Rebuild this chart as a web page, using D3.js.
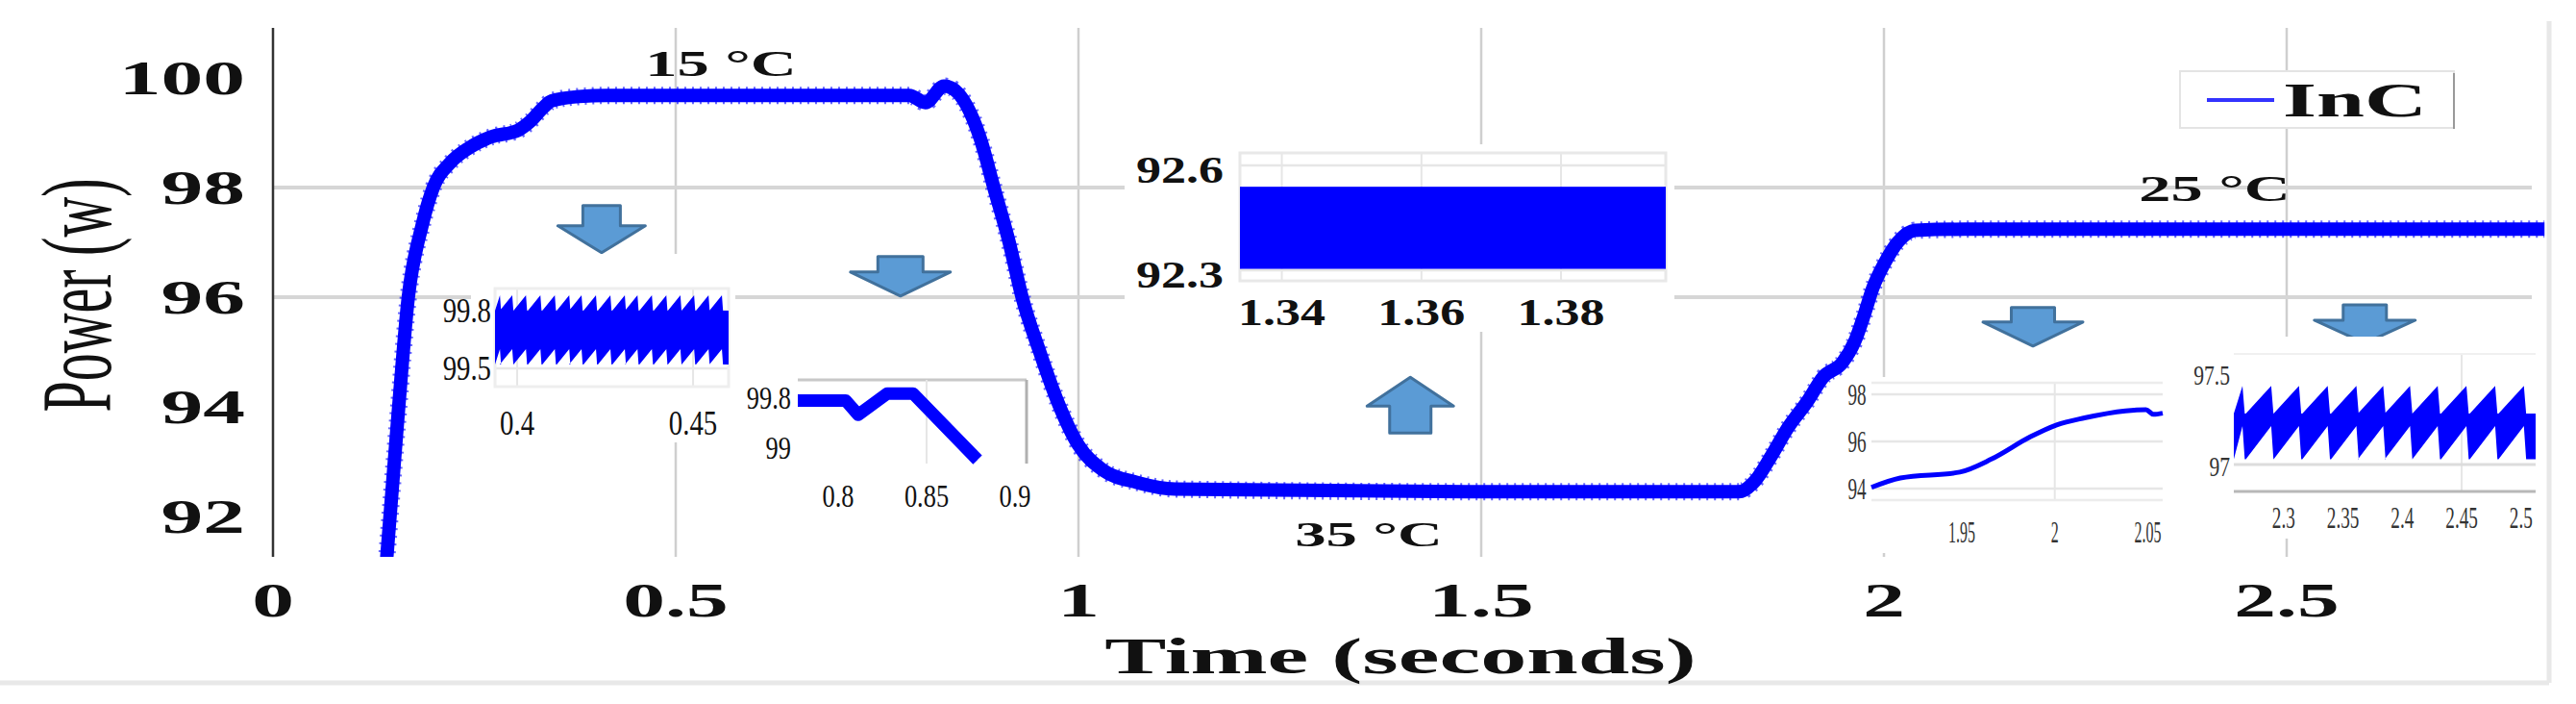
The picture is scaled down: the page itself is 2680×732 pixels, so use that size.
<!DOCTYPE html>
<html><head><meta charset="utf-8">
<script src="https://cdn.jsdelivr.net/npm/d3@7/dist/d3.min.js"></script>
<style>body{margin:0;background:#fff}svg{display:block}</style>
</head><body>
<script>
// ---------- data ----------
const mainT = [0.141,0.155,0.168,0.185,0.199,0.22,0.243,0.27,0.305,0.319,0.335,0.346,0.38,0.414,0.6,0.79,0.81,0.833,0.842,0.878,0.895,0.914,0.93,0.952,0.974,1.0,1.03,1.073,1.12,1.5,1.82,1.84,1.86,1.88,1.905,1.925,1.948,1.964,1.976,1.986,2.0,2.017,2.039,2.1,2.4,2.82];
const mainP = [91.2,93.8,96.0,97.3,98.0,98.45,98.72,98.92,99.05,99.2,99.45,99.58,99.66,99.68,99.68,99.68,99.55,99.85,99.82,98.9,98.0,97.0,96.0,95.0,94.1,93.3,92.85,92.62,92.5,92.45,92.45,92.65,93.1,93.6,94.1,94.55,94.8,95.2,95.7,96.16,96.6,97.0,97.22,97.24,97.24,97.24];
const xTicks = [0,0.5,1,1.5,2,2.5];
const xTickLabels = ["0","0.5","1","1.5","2","2.5"];
const yTicks = [92,94,96,98,100];
const yTickLabels = ["92","94","96","98","100"];
// inset A (0.4 - 0.45)
const aTeeth = [0.3951,0.3986,0.4025,0.4066,0.4107,0.4148,0.4183,0.4224,0.4265,0.4306,0.4342,0.4383,0.4424,0.4464,0.4503,0.4544,0.4582];
const aEnv = [99.88,99.8,99.6,99.52];
const aXTicks = [0.4,0.45], aYTicks=[99.5,99.8];
// inset B (0.8 - 0.9)
const bT = [0.7772,0.8043,0.8114,0.8277,0.8424,0.8788];
const bP = [99.75,99.75,99.52,99.86,99.86,98.8];
const bXTicks=[0.8,0.85,0.9];
// inset C (1.34 - 1.38)
const cBand = [92.318,92.553];
const cXTicks=[1.34,1.36,1.38], cYTicks=[92.3,92.6];
// inset D (1.95 - 2.05)
const dT = [1.9015,1.917,1.949,1.966,1.987,2.001,2.016,2.038,2.049,2.053,2.058];
const dP = [94.05,94.45,94.7,95.25,96.2,96.7,97.0,97.3,97.35,97.15,97.2];
const dXTicks=[1.95,2,2.05], dYTicks=[94,96,98];
// inset E (2.3 - 2.5)
const eTeeth = [2.2653,2.2895,2.3129,2.3371,2.3613,2.3839,2.4065,2.4298,2.4540,2.4782,2.5024];
const eEnv = [97.44,97.285,97.215,97.03];
const eXTicks=[2.3,2.35,2.4,2.45,2.5], eYTicks=[97,97.5];

// ---------- setup ----------
const W=2680,H=732;
const svg=d3.select("body").append("svg").attr("width",W).attr("height",H);
const x=d3.scaleLinear().domain([0,1]).range([284,1122]);
const y=d3.scaleLinear().domain([100,92]).range([81,537]);
const plotL=284, plotR=2649, plotT=29, plotB=579;
const FONT="Liberation Serif";
function txt(g,px,py,s,size,opt={}){
  return g.append("text").attr("transform",`translate(${px},${py}) scale(${opt.sx||1},1)`)
   .attr("text-anchor",opt.anchor||"middle").attr("dominant-baseline","central")
   .attr("font-family",FONT).attr("font-weight",opt.weight||"bold").attr("font-size",size)
   .attr("fill",opt.fill||"#111").text(s);
}
svg.append("line").attr("x1",0).attr("x2",2652).attr("y1",710).attr("y2",710).attr("stroke","#e8e8e8").attr("stroke-width",5);
svg.append("line").attr("x1",2652).attr("x2",2652).attr("y1",22).attr("y2",710).attr("stroke","#e8e8e8").attr("stroke-width",5);

const grid=svg.append("g");
xTicks.slice(1).forEach(t=>grid.append("line").attr("x1",x(t)).attr("x2",x(t)).attr("y1",plotT).attr("y2",plotB).attr("stroke","#cfcfcf").attr("stroke-width",2.5));
[96,98].forEach(p=>grid.append("line").attr("x1",plotL).attr("x2",plotR-15).attr("y1",y(p)).attr("y2",y(p)).attr("stroke","#d6d6d6").attr("stroke-width",4));
svg.append("line").attr("x1",plotL).attr("x2",plotL).attr("y1",plotT).attr("y2",plotB).attr("stroke","#333").attr("stroke-width",2.5);
yTicks.forEach((v,i)=>txt(svg,255,y(v),yTickLabels[i],50,{anchor:"end",sx:1.75}));
xTicks.forEach((v,i)=>txt(svg,x(v),624,xTickLabels[i],50,{sx:1.75}));
txt(svg,1457,683,"Time (seconds)",52,{sx:1.85});
svg.append("text").attr("transform","translate(80,307) scale(1.8,1) rotate(-90)")
  .attr("text-anchor","middle").attr("dominant-baseline","central").attr("font-family",FONT)
  .attr("font-size",58).attr("fill","#111").text("Power (w)");

svg.append("clipPath").attr("id","pc").append("rect").attr("x",plotL).attr("y",plotT).attr("width",plotR-plotL).attr("height",plotB-plotT);
const mainData=mainT.map((t,i)=>[t,mainP[i]]);
const line=d3.line().x(d=>x(d[0])).y(d=>y(d[1])).curve(d3.curveMonotoneX);
svg.append("path").attr("clip-path","url(#pc)").attr("d",line(mainData)).attr("fill","none")
  .attr("stroke","#0000ff").attr("stroke-width",14).attr("stroke-linejoin","round");
svg.append("path").attr("clip-path","url(#pc)").attr("d",line(mainData)).attr("fill","none")
  .attr("stroke","#0000ff").attr("stroke-width",18).attr("stroke-dasharray","2 6").attr("opacity",0.6);

txt(svg,750,66,"15 °C",38,{sx:1.75});
txt(svg,1424,556,"35 °C",36,{sx:1.8});
txt(svg,2304,196,"25 °C",38,{sx:1.75});

const lg=svg.append("g");
lg.append("rect").attr("x",2268).attr("y",74).attr("width",285).attr("height",59).attr("fill","#fff").attr("stroke","#e4e4e4").attr("stroke-width",2);
lg.append("line").attr("x1",2553).attr("x2",2553).attr("y1",76).attr("y2",134).attr("stroke","#999").attr("stroke-width",2);
lg.append("line").attr("x1",2296).attr("x2",2366).attr("y1",104).attr("y2",104).attr("stroke","#3333ff").attr("stroke-width",4);
txt(lg,2375,104,"InC",50,{anchor:"start",sx:1.8});

function arrow(t,p,dir,w,sw,sh,hh){
  const cx=x(t), ty=y(p);
  let pts;
  if(dir==="down") pts=[[cx-sw/2,ty],[cx+sw/2,ty],[cx+sw/2,ty+sh],[cx+w/2,ty+sh],[cx,ty+sh+hh],[cx-w/2,ty+sh],[cx-sw/2,ty+sh]];
  else pts=[[cx,ty],[cx+w/2,ty+hh],[cx+sw/2,ty+hh],[cx+sw/2,ty+hh+sh],[cx-sw/2,ty+hh+sh],[cx-sw/2,ty+hh],[cx-w/2,ty+hh]];
  svg.append("path").attr("d","M"+pts.join("L")+"Z").attr("fill","#5b9bd5").attr("stroke","#41719c").attr("stroke-width",3).attr("stroke-linejoin","round");
}
arrow(0.408,97.67,"down",91,39,21,28);
arrow(0.779,96.74,"down",104,47,16,25);
arrow(2.185,95.81,"down",104,45,15,25);
arrow(2.597,95.86,"down",105,45,16,24);
arrow(1.412,94.54,"up",90,43,28,30);

function inset(o){
  const g=svg.append("g");
  const ix=d3.scaleLinear().domain(o.xd).range([o.box[0],o.box[1]]);
  const iy=d3.scaleLinear().domain(o.yd).range([o.box[3],o.box[2]]);
  if(o.bg) g.append("rect").attr("x",o.bg[0]).attr("y",o.bg[1]).attr("width",o.bg[2]-o.bg[0]).attr("height",o.bg[3]-o.bg[1]).attr("fill","#fff");
  (o.gx||[]).forEach(t=>g.append("line").attr("x1",ix(t)).attr("x2",ix(t)).attr("y1",o.box[2]).attr("y2",o.box[3]).attr("stroke","#e6e6e6").attr("stroke-width",2));
  (o.gy||[]).forEach(v=>g.append("line").attr("x1",o.box[0]).attr("x2",o.box[1]).attr("y1",iy(v)).attr("y2",iy(v)).attr("stroke","#e6e6e6").attr("stroke-width",2.5));
  if(o.frame) g.append("rect").attr("x",o.box[0]).attr("y",o.box[2]).attr("width",o.box[1]-o.box[0]).attr("height",o.box[3]-o.box[2]).attr("fill","none").attr("stroke",o.frame).attr("stroke-width",3);
  return {g,ix,iy};
}
function sawBand(I,teeth,env,d0,d1){
  const per=(teeth[teeth.length-1]-teeth[0])/(teeth.length-1);
  const up=[[d0,env[1]]], lo=[];
  teeth.forEach(t=>{const s=Math.max(d0,t-per*0.9);up.push([s,env[1]],[Math.min(t,d1),env[0]],[Math.min(t+per*0.08,d1),env[1]]);});
  up.push([d1,env[1]]);
  teeth.forEach(t=>{const s=Math.max(d0,t-per*0.9);lo.push([s,env[3]],[Math.min(t,d1),env[2]],[Math.min(t+per*0.08,d1),env[3]]);});
  lo.unshift([d0,env[3]]); lo.push([d1,env[3]]);
  const pts=up.concat(lo.reverse()).map(d=>[I.ix(d[0]),I.iy(d[1])]);
  I.g.append("path").attr("d","M"+pts.join("L")+"Z").attr("fill","#0000ff");
}
{
  const I=inset({xd:[0.3937,0.4601],yd:[99.405,99.915],box:[515,758,300,402],bg:[490,264,765,460],gx:aXTicks,gy:aYTicks,frame:"#eeeeee"});
  sawBand(I,aTeeth,aEnv,0.3937,0.4601);
  aYTicks.forEach(v=>txt(I.g,511,I.iy(v),v.toString(),36,{anchor:"end",weight:"normal",sx:0.8}));
  aXTicks.forEach(v=>txt(I.g,I.ix(v),440,v.toString(),36,{weight:"normal",sx:0.8}));
}
{
  const I=inset({xd:[0.7772,0.9065],yd:[98.74,100.08],box:[830,1068,395,482],bg:[770,385,1075,535]});
  I.g.append("line").attr("x1",830).attr("x2",1068).attr("y1",395).attr("y2",395).attr("stroke","#c8c8c8").attr("stroke-width",3);
  I.g.append("line").attr("x1",1068).attr("x2",1068).attr("y1",395).attr("y2",482).attr("stroke","#b0b0b0").attr("stroke-width",3);
  I.g.append("line").attr("x1",I.ix(0.85)).attr("x2",I.ix(0.85)).attr("y1",395).attr("y2",482).attr("stroke","#e6e6e6").attr("stroke-width",2);
  const bl=d3.line().x(d=>I.ix(d[0])).y(d=>I.iy(d[1]));
  I.g.append("path").attr("d",bl(bT.map((t,i)=>[t,bP[i]]))).attr("fill","none").attr("stroke","#0000ff").attr("stroke-width",13).attr("stroke-linejoin","round");
  txt(I.g,823,413,"99.8",33,{anchor:"end",weight:"normal",sx:0.8});
  txt(I.g,823,465,"99",33,{anchor:"end",weight:"normal",sx:0.8});
  bXTicks.forEach(v=>txt(I.g,I.ix(v),515,v.toString(),33,{weight:"normal",sx:0.8}));
}
{
  const I=inset({xd:[1.334,1.395],yd:[92.27,92.636],box:[1290,1733,159,292],bg:[1170,150,1742,345],gx:cXTicks,gy:cYTicks,frame:"#e8e8e8"});
  I.iy.range([297,164]);
  I.g.append("rect").attr("x",I.ix(1.334)).attr("width",I.ix(1.395)-I.ix(1.334)).attr("y",I.iy(cBand[1])).attr("height",I.iy(cBand[0])-I.iy(cBand[1])).attr("fill","#0000ff");
  cYTicks.forEach(v=>txt(I.g,1273,I.iy(v),v.toString(),40,{anchor:"end",sx:1.3}));
  cXTicks.forEach(v=>txt(I.g,I.ix(v),325,v.toString(),40,{sx:1.3}));
}
{
  const I=inset({xd:[1.9015,2.058],yd:[93.51,98.49],box:[1947,2250,398,520],bg:[1915,392,2256,575],gx:[2],gy:dYTicks});
  I.g.append("line").attr("x1",1947).attr("x2",2250).attr("y1",398).attr("y2",398).attr("stroke","#ececec").attr("stroke-width",2.5);
  I.g.append("line").attr("x1",1947).attr("x2",2250).attr("y1",520).attr("y2",520).attr("stroke","#ececec").attr("stroke-width",2.5);
  const dl=d3.line().x(d=>I.ix(d[0])).y(d=>I.iy(d[1])).curve(d3.curveMonotoneX);
  I.g.append("path").attr("d",dl(dT.map((t,i)=>[t,dP[i]]))).attr("fill","none").attr("stroke","#0000ff").attr("stroke-width",5);
  dYTicks.forEach(v=>txt(I.g,1932,I.iy(v),v.toString(),32,{weight:"normal",sx:0.6,fill:"#333"}));
  dXTicks.forEach(v=>txt(I.g,I.ix(v),553,v.toString(),32,{weight:"normal",sx:0.5,fill:"#333"}));
}
{
  const I=inset({xd:[2.258,2.5123],yd:[97,97.5],box:[2324,2638,390,483],bg:[2290,350,2645,560]});
  I.g.append("line").attr("x1",I.ix(2.45)).attr("x2",I.ix(2.45)).attr("y1",368).attr("y2",511).attr("stroke","#e6e6e6").attr("stroke-width",2);
  I.g.append("line").attr("x1",2324).attr("x2",2638).attr("y1",I.iy(97)).attr("y2",I.iy(97)).attr("stroke","#dcdcdc").attr("stroke-width",3);
  I.g.append("line").attr("x1",2324).attr("x2",2638).attr("y1",368).attr("y2",368).attr("stroke","#f0f0f0").attr("stroke-width",2);
  I.g.append("line").attr("x1",2324).attr("x2",2638).attr("y1",511).attr("y2",511).attr("stroke","#b8b8b8").attr("stroke-width",3);
  sawBand(I,eTeeth,eEnv,2.258,2.5123);
  eYTicks.forEach(v=>txt(I.g,2320,I.iy(v)+(v===97?2:0),v.toString(),30,{anchor:"end",weight:"normal",sx:0.72,fill:"#333"}));
  eXTicks.forEach(v=>txt(I.g,I.ix(v),538,v.toString(),32,{weight:"normal",sx:0.6,fill:"#333"}));
}
</script>
</body></html>
